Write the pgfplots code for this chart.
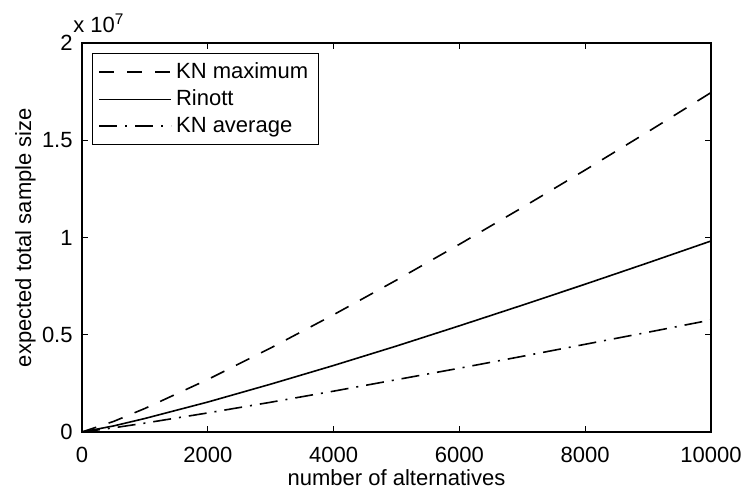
\documentclass[border=0pt]{standalone}
\usepackage{fontspec}
\setmainfont{Liberation Sans}
\usepackage{pgfplots}
\pgfplotsset{compat=1.18}

\begin{document}
\fontsize{11}{13.2}\selectfont
\begin{tikzpicture}
    \begin{axis}[
        name=main,
        scale only axis,
        width=314.5pt,
        height=194.5pt,
        xmin=0, xmax=10000,
        ymin=0, ymax=2e7,
        xtick={0,2000,...,10000},
        ytick={0,5000000,10000000,15000000,20000000},
        scaled x ticks=false,
        scaled y ticks=base 10:-7,
        ytick scale label code/.code={x 10\textsuperscript{#1}},
        every y tick scale label/.style={at={(rel axis cs:0,1)}, anchor=south west, inner sep=0pt, yshift=5pt},
        /pgf/number format/assume math mode=true,
        /pgf/number format/1000 sep={},
        tick align=inside,
        major tick length=3pt,
        tick style={black, line width=0.5pt},
        axis line style={line width=0.6pt},
        xticklabel style={inner sep=0pt, yshift=-7.5pt},
        yticklabel style={inner sep=0pt, xshift=-4.5pt},
        xlabel={number of alternatives},
        ylabel={expected total sample size},
        every axis x label/.style={at={(axis description cs:0.5,-0.118)}, anchor=center},
        every axis y label/.style={at={(axis description cs:-0.09,0.5)}, anchor=center, rotate=90},
        legend cell align=left,
        legend style={at={(rel axis cs:0,1)}, anchor=north west, xshift=5pt, yshift=-5pt,
            draw=black, line width=0.5pt, inner xsep=3pt, inner ysep=2.5pt, row sep=0pt},
        legend image code/.code={\draw[#1] (0pt,0pt) -- (36pt,0pt);},
        every axis plot/.append style={black, line width=0.8pt},
    ]
        % KN maximum
        \addplot[dash pattern=on 7.5pt off 6.5pt] coordinates {
            (0,0) (500,540000) (1000,1210000) (2000,2700000) (3000,4320000) (4000,6030000)
            (5000,7810000) (6000,9650000) (7000,11540000) (8000,13470000) (9000,15440000) (10000,17450000)
        };
        % Rinott
        \addplot[solid] coordinates {
            (0,0) (500,310000) (1000,695000) (2000,1540000) (3000,2460000) (4000,3420000)
            (5000,4420000) (6000,5460000) (7000,6520000) (8000,7600000) (9000,8700000) (10000,9820000)
        };
        % KN average
        \addplot[dash pattern=on 9pt off 4pt on 1pt off 4pt] coordinates {
            (0,0) (500,214000) (1000,457000) (2000,981000) (3000,1530000) (4000,2100000)
            (5000,2690000) (6000,3280000) (7000,3890000) (8000,4510000) (9000,5130000) (10000,5760000)
        };
        \legend{KN maximum, Rinott, KN average}
    \end{axis}
    \pgfresetboundingbox
    \path ([xshift=-41pt,yshift=-29.5pt]main.south west) rectangle ([xshift=16pt,yshift=21.5pt]main.north east);
\end{tikzpicture}
\end{document}
